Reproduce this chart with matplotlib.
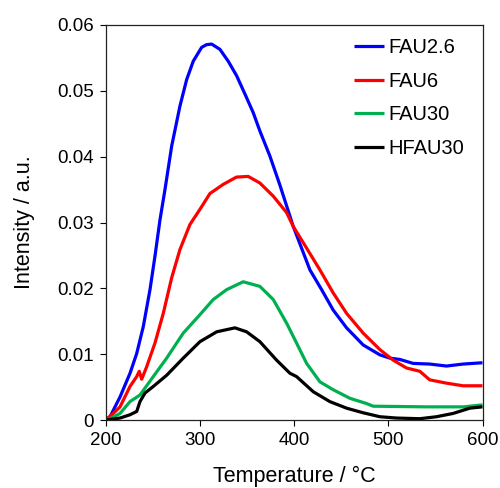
import matplotlib
matplotlib.use("Agg")
import matplotlib.pyplot as plt

plt.rcParams['font.family'] = ['Liberation Sans', 'DejaVu Sans']

labels = ["FAU2.6", "FAU6", "FAU30", "HFAU30"]
colors = ["#0000FF", "#FF0000", "#00B050", "#000000"]

t_fau26 = [200, 204.8, 215.4, 226, 233.1, 240.1, 247.2, 252.5, 257.8, 263.1, 270.2, 279, 286.1, 293.1,
           302, 307, 312.6, 321.4, 330.2, 339.1, 348, 356.7, 363.8, 374.4, 385, 399.2, 416.9, 429.3,
           441.6, 455.8, 473.4, 491.1, 501.7, 512.3, 526.4, 544, 561.8, 579.4, 600]
i_fau26 = [0.0, 0.0005, 0.0035, 0.0071, 0.0101, 0.0142, 0.0198, 0.0249, 0.0304, 0.035, 0.0416, 0.0477,
           0.0517, 0.0545, 0.0566, 0.057, 0.0571, 0.0563, 0.0545, 0.0523, 0.0495, 0.0467, 0.0439, 0.0401,
           0.0357, 0.0294, 0.0228, 0.0198, 0.0167, 0.014, 0.0114, 0.0099, 0.0094, 0.0092, 0.0086, 0.0085,
           0.0082, 0.0085, 0.0087]

t_fau6 = [200, 208.3, 215.4, 226, 233.1, 235.8, 238.4, 243.7, 252.5, 261.3, 270.2, 279, 289.6, 300.2,
          310.8, 325, 339, 351.4, 363.8, 378, 392.2, 399.2, 413.4, 427.5, 441.6, 455.8, 473.4, 491.1,
          505.2, 519.4, 533.5, 544, 561.8, 579.4, 600]
i_fau6 = [0.0, 0.001, 0.002, 0.0051, 0.0066, 0.0074, 0.0062, 0.0081, 0.0117, 0.0162, 0.0216, 0.0259,
          0.0297, 0.032, 0.0344, 0.0358, 0.0369, 0.037, 0.036, 0.034, 0.0315, 0.0294, 0.0261, 0.0228,
          0.0193, 0.0162, 0.0132, 0.0107, 0.0091, 0.0079, 0.0074, 0.0061, 0.0056, 0.0052, 0.0052]

t_fau30 = [200, 204.8, 215.4, 226, 236.6, 250.7, 264.9, 282.5, 300.2, 314.3, 328.5, 346.1, 363.8, 378,
           392.2, 399.2, 413.4, 427.5, 441.6, 459.3, 477, 484, 540, 580, 600]
i_fau30 = [0.0, 0.0002, 0.001, 0.0028, 0.0038, 0.0066, 0.0094, 0.0132, 0.016, 0.0183, 0.0198, 0.021,
           0.0203, 0.0183, 0.0147, 0.0127, 0.0086, 0.0058, 0.0046, 0.0033, 0.0025, 0.0021, 0.002, 0.002,
           0.0023]

t_hfau30 = [200, 215.4, 226, 233.1, 236.6, 241.9, 250.7, 264.9, 282.5, 300.2, 318, 337.3, 349.7, 363.8,
            381.5, 395.7, 402.7, 420.4, 438, 455.8, 473.4, 491.1, 508.8, 533.5, 551.2, 568.8, 586.5, 600]
i_hfau30 = [0.0, 0.0003, 0.0008, 0.0013, 0.0028, 0.0041, 0.0051, 0.0068, 0.0094, 0.0119, 0.0134, 0.014,
            0.0134, 0.0119, 0.0091, 0.0071, 0.0066, 0.0043, 0.0028, 0.0018, 0.0011, 0.0005, 0.0003,
            0.0002, 0.0005, 0.001, 0.0018, 0.002]

series = [(t_fau26, i_fau26), (t_fau6, i_fau6), (t_fau30, i_fau30), (t_hfau30, i_hfau30)]

x_ticks = [200, 300, 400, 500, 600]
y_ticks = [0, 0.01, 0.02, 0.03, 0.04, 0.05, 0.06]
y_tick_labels = ["0", "0.01", "0.02", "0.03", "0.04", "0.05", "0.06"]

fig = plt.figure(figsize=(5, 4.88), dpi=100)
ax = fig.add_axes([0.211, 0.1393, 0.754, 0.8095])

for (t, v), lab, c in zip(series, labels, colors):
    ax.plot(t, v, color=c, lw=2.3, label=lab, solid_capstyle='butt', solid_joinstyle='round')

ax.set_xlim(200, 600)
ax.set_ylim(0, 0.06)
ax.set_xticks(x_ticks)
ax.set_yticks(y_ticks)
ax.set_yticklabels(y_tick_labels)
ax.tick_params(direction='out', length=4.5, width=0.8, labelsize=13.5, colors='black', pad=4)
for s in ax.spines.values():
    s.set_linewidth(0.9)
    s.set_color('#222222')

ax.set_xlabel("Temperature / °C", fontsize=15.5, labelpad=12)
ax.set_ylabel("Intensity / a.u.", fontsize=15.5, labelpad=16)

leg = ax.legend(loc='upper right', bbox_to_anchor=(0.985, 1.0), frameon=False, fontsize=14.5,
                handlelength=1.5, handletextpad=0.2, labelspacing=0.72, borderaxespad=0.25)

fig.savefig("out.png", dpi=100)
